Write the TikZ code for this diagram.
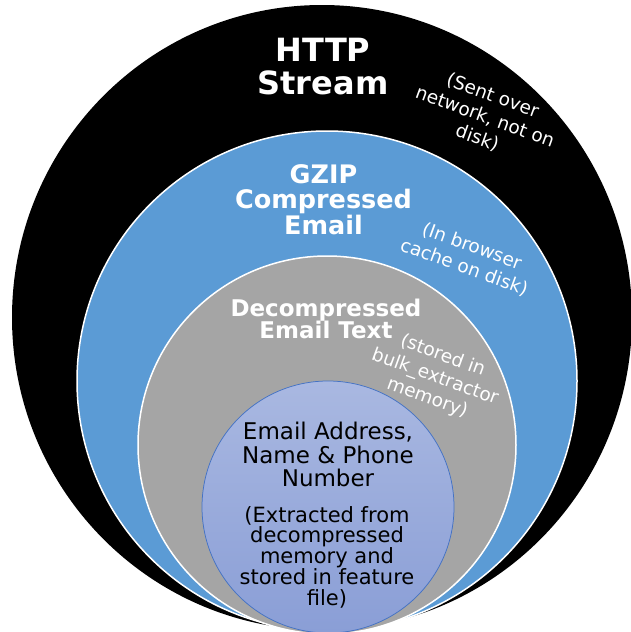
\documentclass[tikz,border=0pt]{standalone}
\usepackage{fontspec}
\setmainfont{DejaVu Sans}
\definecolor{ringblue}{HTML}{5B9BD5}
\definecolor{ringgray}{HTML}{A5A5A5}
\definecolor{coretop}{HTML}{A9B8E1}
\definecolor{corebot}{HTML}{8A9ED6}
\definecolor{coreline}{HTML}{4472C4}
\begin{document}
\begin{tikzpicture}[x=1pt,y=-1pt,
  titletext/.style={text=white, align=center, inner sep=0pt},
  notetext/.style={text=white, align=center, inner sep=0pt, rotate=-20,
    font=\fontsize{18.5}{22.5}\selectfont},
  coretext/.style={text=black, align=center, inner sep=0pt}]
\useasboundingbox (0,0) rectangle (631,632);
\clip (0,0) rectangle (631,632);
% rings
\fill[black] (322,317.5) ellipse [x radius=310pt, y radius=312.5pt];
\filldraw[fill=ringblue, draw=white, line width=1.5pt] (327,381) circle [radius=250pt];
\filldraw[fill=ringgray, draw=white, line width=1.5pt] (327,445) circle [radius=189pt];
\shade[top color=coretop, bottom color=corebot, draw=coreline, line width=0.75pt] (328,507) circle [radius=126pt];
% titles
\node[titletext, font=\bfseries\fontsize{32}{32.5}\selectfont] (http) at (323,66.5) {HTTP\\Stream};
\node[titletext, font=\bfseries\fontsize{25.5}{25.5}\selectfont] (gzip) at (323.5,199.5) {GZIP\\Compressed\\Email};
\node[titletext, font=\bfseries\fontsize{23}{22.5}\selectfont] (decomp) at (326,319) {Decompressed\\Email Text};
% notes
\node[notetext] (httpnote) at (485,117) {(Sent over\\network, not on\\disk)};
\node[notetext] (gzipnote) at (468,257) {(In browser\\cache on disk)};
\node[notetext] (decompnote) at (435,377) {(stored in\\bulk\_extractor\\memory)};
% core
\node[coretext, font=\fontsize{23}{23.5}\selectfont] (core) at (328,454.5) {Email Address,\\Name \& Phone\\Number};
\node[coretext, font=\fontsize{21}{20.75}\selectfont] (corenote) at (327,557) {(Extracted from\\decompressed\\memory and\\stored in feature\\file)};
\end{tikzpicture}
\end{document}
